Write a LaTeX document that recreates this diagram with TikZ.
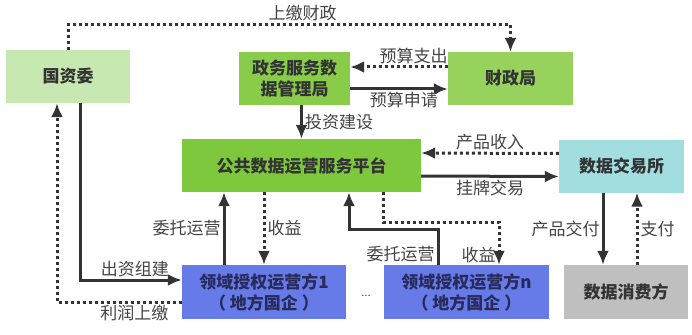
\documentclass[tikz,border=0pt]{standalone}
\usepackage{fontspec}
\setmainfont{Noto Sans CJK SC}
\usepackage{tikz}
\usetikzlibrary{arrows.meta,positioning,calc}
\definecolor{lightgreen}{RGB}{200,232,178}
\definecolor{midgreen}{RGB}{136,204,74}
\definecolor{palegreen}{RGB}{150,210,92}
\definecolor{brightgreen}{RGB}{126,200,62}
\definecolor{aquacyan}{RGB}{162,222,224}
\definecolor{opblue}{RGB}{102,122,232}
\definecolor{consgray}{RGB}{191,191,191}
\definecolor{linegray}{RGB}{51,51,51}
\definecolor{textgray}{RGB}{68,68,68}
\definecolor{navytext}{RGB}{40,42,90}

\begin{document}
\begin{tikzpicture}[x=1pt, y=-1pt,
    box/.style={minimum height=53pt, inner sep=0pt, align=center, font=\fontsize{17}{21}\selectfont\bfseries, text=linegray},
    solidarrow/.style={line width=3pt, draw=linegray, -{Latex[length=14pt,width=12pt]}},
    dotarrow/.style={solidarrow, dash pattern=on 3pt off 3pt},
    lbl/.style={font=\fontsize{17}{19}\selectfont, text=textgray, inner sep=2pt}]
    \useasboundingbox (0,0) rectangle (692,334);

    % boxes
    \node[box, fill=lightgreen, minimum width=124pt] (gzw) at (68,76.5) {国资委};
    \node[box, fill=midgreen, minimum width=111pt] (zwj) at (294.5,78.5) {政务服务数\\据管理局};
    \node[box, fill=palegreen, minimum width=125pt] (czj) at (510.5,78.5) {财政局};
    \node[box, fill=brightgreen, minimum width=239pt] (pt) at (301.5,165.5) {公共数据运营服务平台};
    \node[box, fill=aquacyan, minimum width=125pt] (jys) at (621.5,166) {数据交易所};
    \node[box, fill=opblue, text=navytext, minimum width=164pt, minimum height=54pt] (op1) at (264,292) {领域授权运营方1\\（ 地方国企 ）};
    \node[box, fill=opblue, text=navytext, minimum width=165pt, minimum height=54pt] (opn) at (466.5,292) {领域授权运营方n\\（ 地方国企 ）};
    \node[box, fill=consgray, minimum width=124pt, minimum height=54pt] (xff) at (626,292) {数据消费方};
    \node[lbl, font=\fontsize{11}{12}\selectfont] (dots) at (366,296) {...};

    % finance flows
    \draw[dotarrow] (gzw.north) -- ++(0,-25) -| node[lbl, pos=0.265, above] {上缴财政} (czj.north);
    \draw[dotarrow] ([yshift=11.5pt]czj.west) -- node[lbl, pos=0.35, above] {预算支出} ([yshift=11.5pt]zwj.east);
    \draw[solidarrow] ([yshift=-10.5pt]zwj.east) -- node[lbl, pos=0.55, below] {预算申请} ([yshift=-10.5pt]czj.west);
    \draw[solidarrow] (zwj.south -| pt.north) -- node[lbl, right] {投资建设} (pt.north);

    % platform and exchange
    \draw[dotarrow] ([yshift=12.5pt]jys.west) -- node[lbl, above] {产品收入} ([yshift=12.5pt]pt.east);
    \draw[solidarrow] ([yshift=-10.5pt]pt.east) -- node[lbl, below] {挂牌交易} ([yshift=-10.5pt]jys.west);

    % state assets commission
    \draw[solidarrow] ([xshift=12pt]gzw.south) |- node[lbl, pos=0.77, above] {出资组建} ([yshift=12pt]op1.west);
    \draw[dotarrow] ([yshift=-10pt]op1.west) -| node[lbl, pos=0.19, below] {利润上缴} ([xshift=-11pt]gzw.south);

    % operators
    \coordinate (wt1) at ([xshift=-40pt]op1.north);
    \draw[solidarrow] (wt1) -- node[lbl, left] {委托运营} (wt1 |- pt.south);
    \draw[dotarrow] (pt.south -| op1.north) -- node[lbl, right] {收益} (op1.north);
    \coordinate (wtn) at ([xshift=-28.5pt]opn.north);
    \coordinate (wtp) at ([xshift=47.5pt]pt.south);
    \draw[solidarrow] (wtn) -- node[lbl, pos=0.3, left] {委托运营} ++(0,-35) -| (wtp);
    \coordinate (syp) at ([xshift=81.5pt]pt.south);
    \coordinate (syn) at ([xshift=32.5pt]opn.north);
    \draw[dotarrow] (syp) -- ++(0,30) -| node[lbl, pos=0.88, left] {收益} (syn);

    % consumer
    \coordinate (jf) at ([xshift=-18.5pt]jys.south);
    \draw[solidarrow] (jf) -- node[lbl, left] {产品交付} (jf |- xff.north);
    \coordinate (zf) at ([xshift=11pt]xff.north);
    \draw[dotarrow] (zf) -- node[lbl, right] {支付} (zf |- jys.south);
\end{tikzpicture}
\end{document}
